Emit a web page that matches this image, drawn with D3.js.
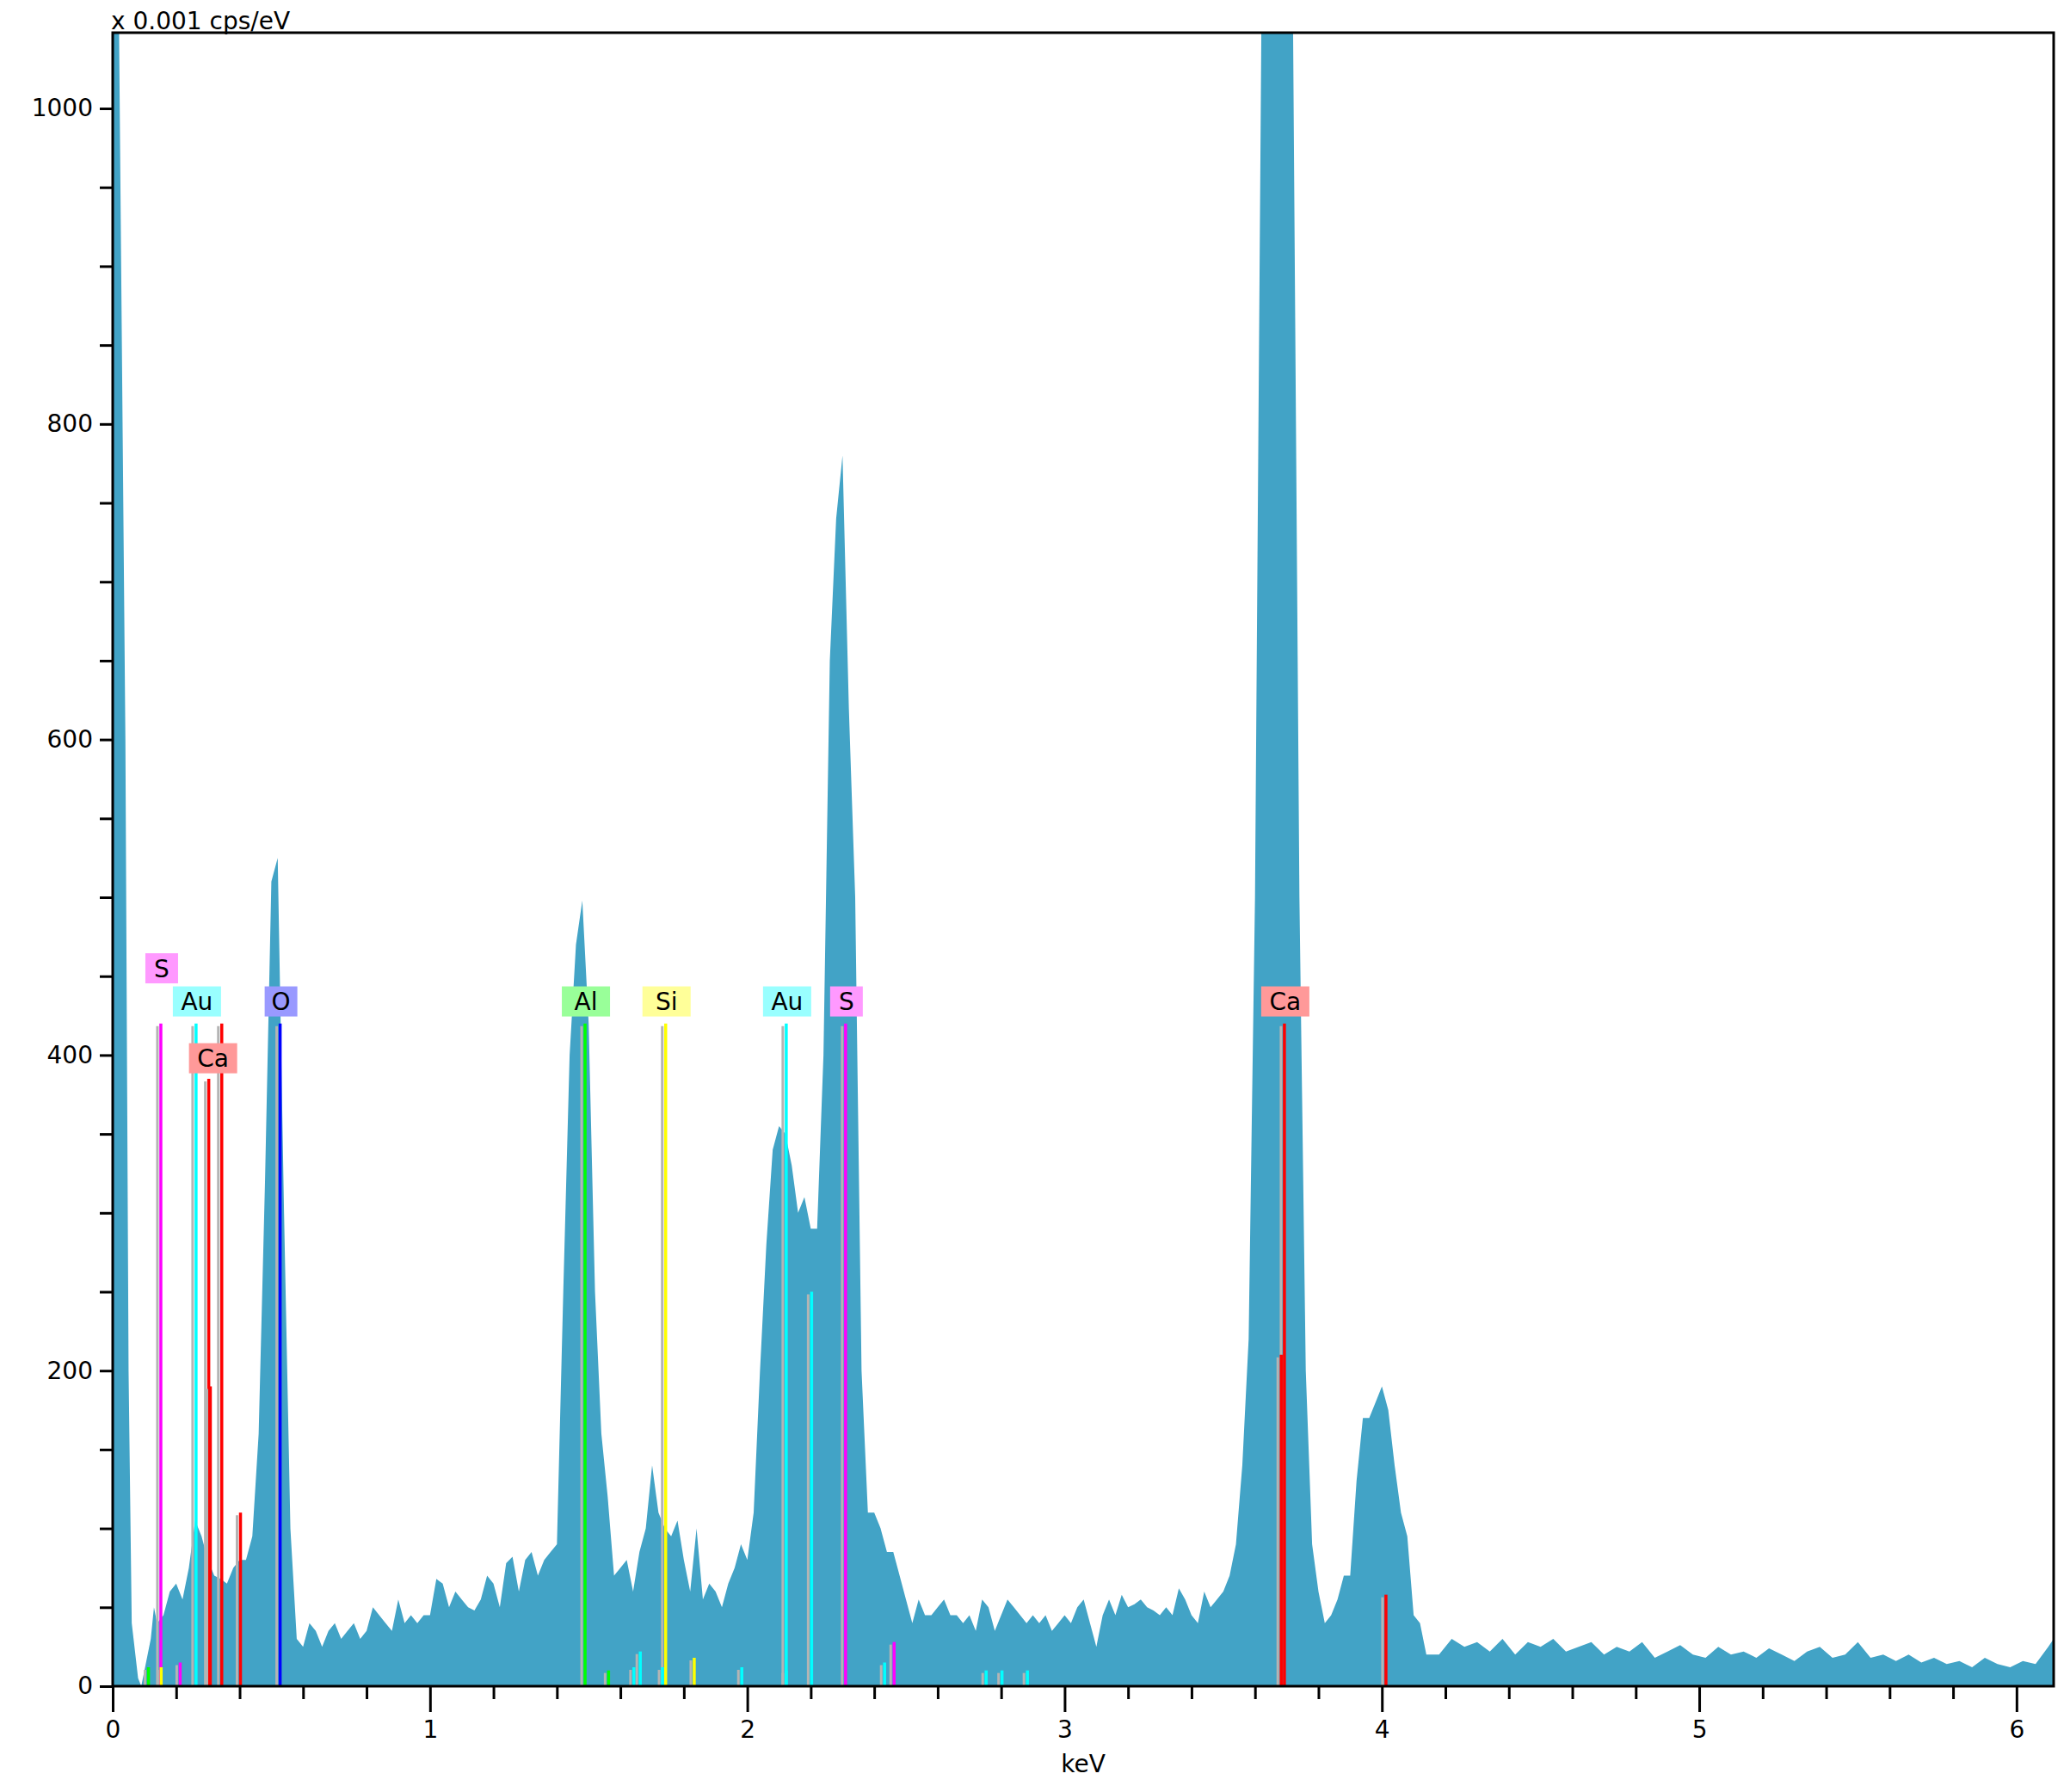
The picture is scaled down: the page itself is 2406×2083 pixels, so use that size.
<!DOCTYPE html>
<html><head><meta charset="utf-8">
<script src="https://cdn.jsdelivr.net/npm/d3@7"></script>
<style>body{margin:0;background:#fff}text{font-family:"DejaVu Sans",Verdana,sans-serif}</style>
</head><body><div id="chart"></div>
<script>
// spectrum as [keV, counts (x 0.001 cps/eV)]
var spectrum = [
 [0,1050],[0.02,1050],[0.04,600],[0.05,200],[0.06,40],[0.08,5],[0.09,0],[0.1,10],[0.12,30],[0.13,50],
 [0.14,40],[0.16,45],[0.18,60],[0.2,65],[0.22,55],[0.24,75],[0.26,105],[0.28,95],[0.3,80],[0.32,70],
 [0.34,68],[0.36,65],[0.38,75],[0.4,80],[0.42,80],[0.44,95],[0.46,160],[0.48,320],[0.5,510],[0.52,525],
 [0.54,300],[0.56,100],[0.58,30],[0.6,25],[0.62,40],[0.64,35],[0.66,25],[0.68,35],[0.7,40],[0.72,30],
 [0.74,35],[0.76,40],[0.78,30],[0.8,35],[0.82,50],[0.84,45],[0.86,40],[0.88,35],[0.9,55],[0.92,40],
 [0.94,45],[0.96,40],[0.98,45],[1.0,45],[1.02,68],[1.04,65],[1.06,50],[1.08,60],[1.1,55],[1.12,50],
 [1.14,48],[1.16,55],[1.18,70],[1.2,65],[1.22,50],[1.24,78],[1.26,82],[1.28,60],[1.3,80],[1.32,85],
 [1.34,70],[1.36,80],[1.38,85],[1.4,90],[1.42,250],[1.44,400],[1.46,470],[1.48,498],[1.5,420],[1.52,250],
 [1.54,160],[1.56,120],[1.58,70],[1.6,75],[1.62,80],[1.64,60],[1.66,85],[1.68,100],[1.7,140],[1.72,110],
 [1.74,100],[1.76,95],[1.78,105],[1.8,80],[1.82,60],[1.84,100],[1.86,55],[1.88,65],[1.9,60],[1.92,50],
 [1.94,65],[1.96,75],[1.98,90],[2.0,80],[2.02,110],[2.04,200],[2.06,280],[2.08,340],[2.1,355],[2.12,350],
 [2.14,330],[2.16,300],[2.18,310],[2.2,290],[2.22,290],[2.24,400],[2.26,650],[2.28,740],[2.3,780],[2.32,620],
 [2.34,500],[2.36,200],[2.38,110],[2.4,110],[2.42,100],[2.44,85],[2.46,85],[2.48,70],[2.5,55],[2.52,40],
 [2.54,55],[2.56,45],[2.58,45],[2.6,50],[2.62,55],[2.64,45],[2.66,45],[2.68,40],[2.7,45],[2.72,35],
 [2.74,55],[2.76,50],[2.78,35],[2.8,45],[2.82,55],[2.84,50],[2.86,45],[2.88,40],[2.9,45],[2.92,40],
 [2.94,45],[2.96,35],[2.98,40],[3.0,45],[3.02,40],[3.04,50],[3.06,55],[3.08,40],[3.1,25],[3.12,45],
 [3.14,55],[3.16,45],[3.18,58],[3.2,50],[3.22,52],[3.24,55],[3.26,50],[3.28,48],[3.3,45],[3.32,50],
 [3.34,45],[3.36,62],[3.38,55],[3.4,45],[3.42,40],[3.44,60],[3.46,50],[3.48,55],[3.5,60],[3.52,70],
 [3.54,90],[3.56,140],[3.58,220],[3.6,500],[3.62,1050],[3.72,1050],[3.74,500],[3.76,200],[3.78,90],[3.8,60],
 [3.82,40],[3.84,45],[3.86,55],[3.88,70],[3.9,70],[3.92,130],[3.94,170],[3.96,170],[3.98,180],[4.0,190],
 [4.02,175],[4.04,140],[4.06,110],[4.08,95],[4.1,45],[4.12,40],[4.14,20],[4.18,20],[4.22,30],[4.26,25],
 [4.3,28],[4.34,22],[4.38,30],[4.42,20],[4.46,28],[4.5,25],[4.54,30],[4.58,22],[4.62,25],[4.66,28],
 [4.7,20],[4.74,25],[4.78,22],[4.82,28],[4.86,18],[4.9,22],[4.94,26],[4.98,20],[5.02,18],[5.06,25],
 [5.1,20],[5.14,22],[5.18,18],[5.22,24],[5.26,20],[5.3,16],[5.34,22],[5.38,25],[5.42,18],[5.46,20],
 [5.5,28],[5.54,18],[5.58,20],[5.62,16],[5.66,20],[5.7,15],[5.74,18],[5.78,14],[5.82,16],[5.86,12],
 [5.9,18],[5.94,14],[5.98,12],[6.02,16],[6.06,14],[6.1,25],[6.117,30]
];

// element lines
var lineE = [0.149,0.26,0.30,0.305,0.341,0.40,0.525,1.486,1.74,2.12,2.2,2.307,3.69,3.68,4.01,0.11,0.15,0.21,1.56,1.64,1.66,1.73,1.83,1.98,2.12,2.43,2.46,2.75,2.8,2.88];
var lineH = [420,420,385,190,420,110,420,420,420,420,250,420,420,210,58,12,12,15,10,12,22,12,18,12,10,15,28,10,10,10];
var lineC = ["#ff00ff","#00ffff","#ff0000","#ff0000","#ff0000","#ff0000","#0000ff","#00ff00","#ffff00","#00ffff","#00ffff","#ff00ff","#ff0000","#ff0000","#ff0000","#00ff00","#ffff00","#ff00ff","#00ff00","#00ffff","#00ffff","#00ffff","#ffff00","#00ffff","#00ffff","#00ffff","#ff00ff","#00ffff","#00ffff","#00ffff"];

// labels
var labelText = ["S","Au","Ca","O","Al","Si","Au","S","Ca"];
var labelE = [0.149,0.26,0.30,0.525,1.486,1.74,2.12,2.307,3.69];
var labelY = [455,434,398,434,434,434,434,434,434];
var labelBg = ["#ff99ff","#99ffff","#ff9999","#9999ff","#99ff99","#ffff99","#99ffff","#ff99ff","#ff9999"];

var W = 2406, H = 2083;
var m = {left:131, right:2387, top:38, bottom:1960};
var x = d3.scaleLinear().domain([0,6.117]).range([m.left,m.right]);
var y = d3.scaleLinear().domain([0,1048]).range([m.bottom,m.top]);
var font = 28;

var svg = d3.select('#chart').append('svg').attr('width',W).attr('height',H);
svg.append('clipPath').attr('id','clip').append('rect')
  .attr('x',m.left).attr('y',m.top).attr('width',m.right-m.left).attr('height',m.bottom-m.top);

var area = d3.area().x(function(d){return x(d[0]);}).y0(y(0)).y1(function(d){return y(d[1]);});
svg.append('path').datum(spectrum).attr('d',area).attr('fill','#42a3c6').attr('clip-path','url(#clip)');

var g = svg.append('g');
lineE.forEach(function(e,i){
  g.append('line').attr('x1',x(e)-3).attr('x2',x(e)-3).attr('y1',y(0)).attr('y2',y(lineH[i])+3)
    .attr('stroke','#b4b4b4').attr('stroke-width',3);
  g.append('line').attr('x1',x(e)+1).attr('x2',x(e)+1).attr('y1',y(0)).attr('y2',y(lineH[i]))
    .attr('stroke',lineC[i]).attr('stroke-width',3.5);
});

labelText.forEach(function(t,i){
  var w = t.length * 18 + 20, h = 35;
  var cx = x(labelE[i]) + (i==2 ? 6 : 2);
  g.append('rect').attr('x',cx-w/2).attr('y',y(labelY[i])-h/2).attr('width',w).attr('height',h).attr('fill',labelBg[i]);
  g.append('text').attr('x',cx).attr('y',y(labelY[i])+10).attr('text-anchor','middle')
    .attr('font-size',font).text(t);
});

// axes
var yAxis = d3.axisLeft(y).tickValues(d3.range(0,1001,200)).tickSize(15).tickPadding(8).tickFormat(d3.format('d'));
svg.append('g').attr('transform','translate('+m.left+',0)').call(yAxis);
svg.append('g').attr('transform','translate('+m.left+',0)')
  .call(d3.axisLeft(y).tickValues(d3.range(50,1001,50).filter(function(v){return v%200;})).tickSize(15).tickFormat(''));
svg.append('g').attr('transform','translate(0,'+m.bottom+')')
  .call(d3.axisBottom(x).tickValues(d3.range(0,7,1)).tickSize(30).tickPadding(10).tickFormat(d3.format('d')));
svg.append('g').attr('transform','translate(0,'+m.bottom+')')
  .call(d3.axisBottom(x).tickValues(d3.range(0.2,6.1,0.2).filter(function(v){return Math.abs(v-Math.round(v))>0.01;})).tickSize(15).tickFormat(''));
svg.selectAll('.domain').remove();
svg.selectAll('.tick line').attr('stroke','#000').attr('stroke-width',3);
svg.selectAll('.tick text').attr('font-size',font).attr('fill','#000').style('font-family','"DejaVu Sans",Verdana,sans-serif');

svg.append('rect').attr('x',m.left).attr('y',m.top).attr('width',m.right-m.left).attr('height',m.bottom-m.top)
  .attr('fill','none').attr('stroke','#000').attr('stroke-width',3);

svg.append('text').attr('x',(m.left+m.right)/2).attr('y',2060).attr('text-anchor','middle').attr('font-size',font).text('keV');
svg.append('text').attr('x',m.left-2).attr('y',34).attr('font-size',font).text('x 0.001 cps/eV');
</script></body></html>
